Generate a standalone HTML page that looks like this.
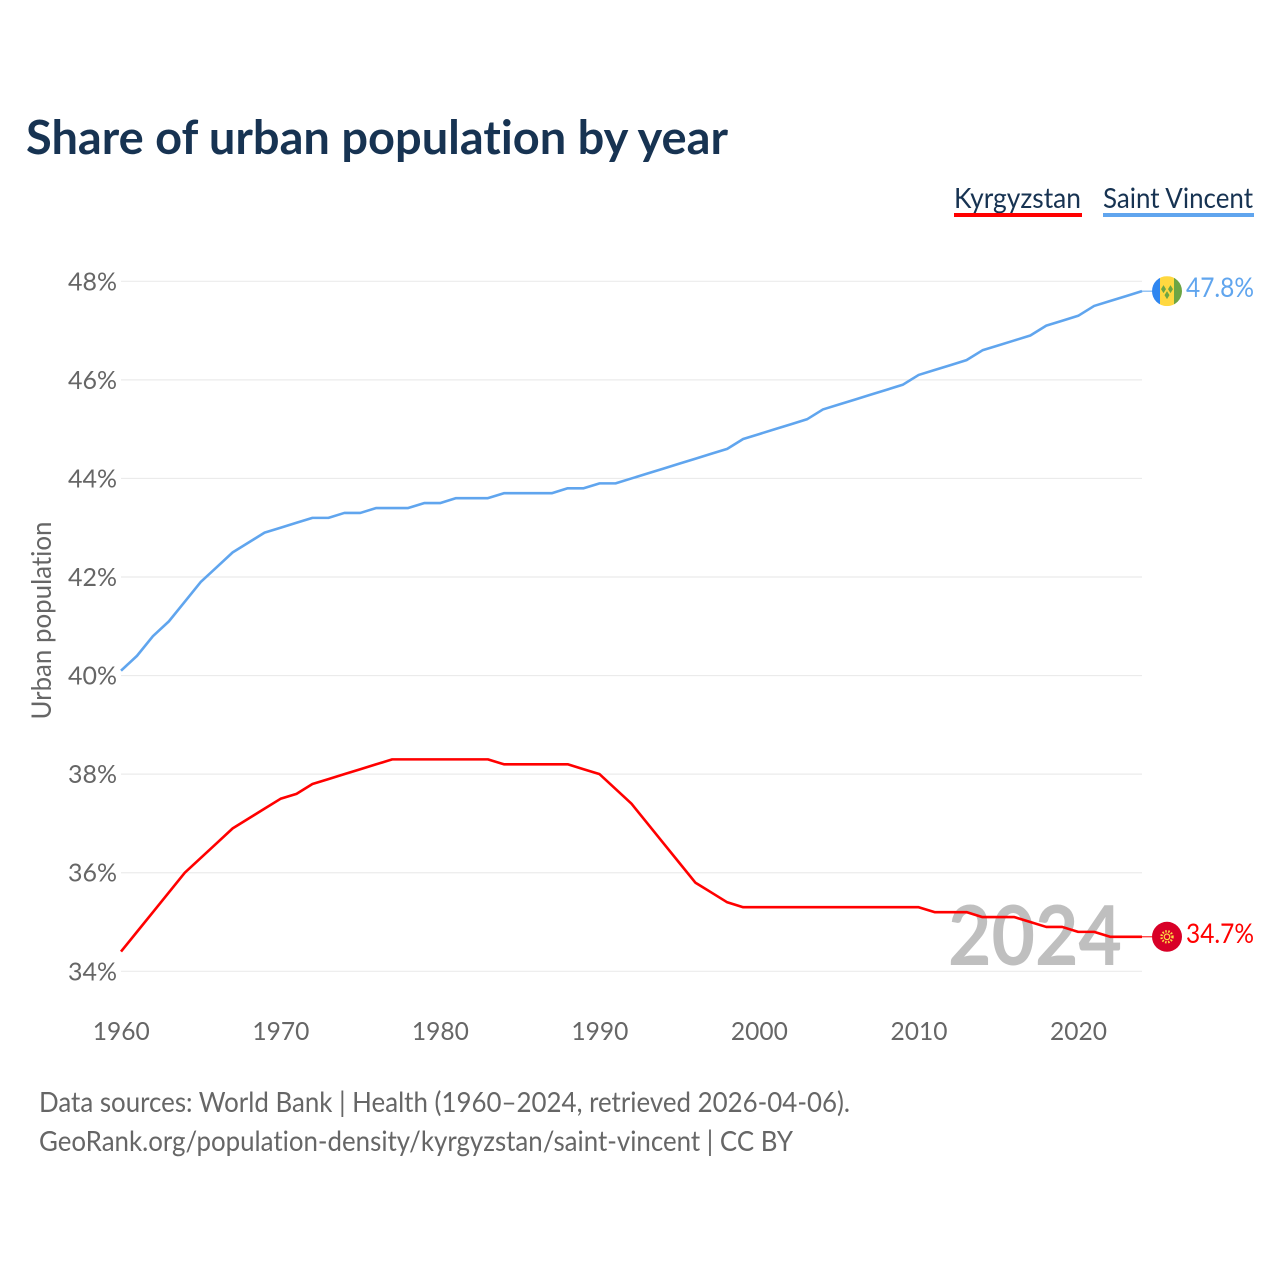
<!DOCTYPE html>
<html lang="en">
<head>
<meta charset="utf-8">
<title>Share of urban population by year</title>
<style>
html,body{margin:0;padding:0;background:#fff;width:1280px;height:1280px;overflow:hidden}
svg{display:block}
text{font-family:"Lato","Carlito","Liberation Sans",sans-serif;font-variant-ligatures:none}
</style>
</head>
<body>
<svg id="chart" width="1280" height="1280" viewBox="0 0 1280 1280" xmlns="http://www.w3.org/2000/svg">
  <rect width="1280" height="1280" fill="#fff"/>
  <text x="26" y="154" font-size="47" font-weight="700" fill="#173352" textLength="702" lengthAdjust="spacingAndGlyphs">Share of urban population by year</text>

  <g>
    <text x="954" y="208" font-size="28" fill="#173352" textLength="127" lengthAdjust="spacingAndGlyphs">Kyrgyzstan</text>
    <rect x="954" y="213" width="128" height="4" fill="#ff0000"/>
  </g>
  <g>
    <text x="1103" y="208" font-size="28" fill="#173352" textLength="150" lengthAdjust="spacingAndGlyphs">Saint Vincent</text>
    <rect x="1103" y="213" width="151" height="4" fill="#60a5ee"/>
  </g>

  <text transform="translate(51 719.500) rotate(-90)" x="0" y="0" font-size="27" fill="#666" textLength="198" lengthAdjust="spacingAndGlyphs">Urban population</text>

  <g id="grid"></g>
  <g id="yticks"></g>
  <g id="xticks"></g>

  <text x="948" y="965" font-size="82" font-weight="700" fill="#bfbfbf" textLength="174" lengthAdjust="spacingAndGlyphs">2024</text>

  <polyline id="line-sv" fill="none" stroke="#60a5ee" stroke-width="2.600" stroke-linejoin="round"/>
  <polyline id="line-kg" fill="none" stroke="#ff0000" stroke-width="2.600" stroke-linejoin="round"/>
  <line id="conn-sv" stroke="#60a5ee" stroke-width="1"/>
  <line id="conn-kg" stroke="#ff0000" stroke-width="1"/>

  <g id="flag-sv">
    <clipPath id="clip-sv"><circle cx="0" cy="0" r="15"/></clipPath>
    <g clip-path="url(#clip-sv)">
      <rect x="-15" y="-15" width="8" height="30" fill="#2f86f0"/>
      <rect x="-7" y="-15" width="15" height="30" fill="#ffd840"/>
      <rect x="7" y="-15" width="8" height="30" fill="#6da544"/>
      <path d="M-6 -2l2.500 -4 2.500 4 -2.500 4z M1 -2l2.500 -4 2.500 4 -2.500 4z M-2.500 4l2.500 -4 2.500 4 -2.500 4z" fill="#6da544"/>
    </g>
  </g>
  <g id="flag-kg">
    <circle r="15" fill="#d80027"/>
    <circle r="2.800" fill="none" stroke="#ffda44" stroke-width="1.200"/>
    <circle r="5.500" fill="none" stroke="#ffda44" stroke-width="2.400" stroke-dasharray="1.500 1.500"/>
  </g>

  <text id="val-sv" x="1186" y="297" font-size="27" fill="#60a5ee" textLength="68" lengthAdjust="spacingAndGlyphs"></text>
  <text id="val-kg" x="1186" y="943" font-size="27" fill="#ff0000" textLength="68" lengthAdjust="spacingAndGlyphs"></text>

  <text x="39" y="1112" font-size="28" fill="#666" textLength="811" lengthAdjust="spacingAndGlyphs">Data sources: World Bank | Health (1960–2024, retrieved 2026-04-06).</text>
  <text x="39" y="1151" font-size="28" fill="#666" textLength="754" lengthAdjust="spacingAndGlyphs">GeoRank.org/population-density/kyrgyzstan/saint-vincent | CC BY</text>
</svg>
<script>
const years = [1960,1961,1962,1963,1964,1965,1966,1967,1968,1969,1970,1971,1972,1973,1974,1975,1976,1977,1978,1979,1980,1981,1982,1983,1984,1985,1986,1987,1988,1989,1990,1991,1992,1993,1994,1995,1996,1997,1998,1999,2000,2001,2002,2003,2004,2005,2006,2007,2008,2009,2010,2011,2012,2013,2014,2015,2016,2017,2018,2019,2020,2021,2022,2023,2024];
const saintVincent = [40.1,40.4,40.8,41.1,41.5,41.9,42.2,42.5,42.7,42.9,43.0,43.1,43.2,43.2,43.3,43.3,43.4,43.4,43.4,43.5,43.5,43.6,43.6,43.6,43.7,43.7,43.7,43.7,43.8,43.8,43.9,43.9,44.0,44.1,44.2,44.3,44.4,44.5,44.6,44.8,44.9,45.0,45.1,45.2,45.4,45.5,45.6,45.7,45.8,45.9,46.1,46.2,46.3,46.4,46.6,46.7,46.8,46.9,47.1,47.2,47.3,47.5,47.6,47.7,47.8];
const kyrgyzstan = [34.4,34.8,35.2,35.6,36.0,36.3,36.6,36.9,37.1,37.3,37.5,37.6,37.8,37.9,38.0,38.1,38.2,38.3,38.3,38.3,38.3,38.3,38.3,38.3,38.2,38.2,38.2,38.2,38.2,38.1,38.0,37.7,37.4,37.0,36.6,36.2,35.8,35.6,35.4,35.3,35.3,35.3,35.3,35.3,35.3,35.3,35.3,35.3,35.3,35.3,35.3,35.2,35.2,35.2,35.1,35.1,35.1,35.0,34.9,34.9,34.8,34.8,34.7,34.7,34.7];
const yTickValues = [34,36,38,40,42,44,46,48];
const xTickValues = [1960,1970,1980,1990,2000,2010,2020];

const NS = 'http://www.w3.org/2000/svg';
const xScale = function (year) { return 121 + (year - 1960) * (1021 / 64); };
const yScale = function (value) { return 971.3 - (value - 34) * (690 / 14); };
const percent = function (value) { return value.toFixed(1) + '%'; };

const grid = document.getElementById('grid');
const yticks = document.getElementById('yticks');
const xticks = document.getElementById('xticks');

yTickValues.forEach(function (v) {
  const y = yScale(v);
  const line = document.createElementNS(NS, 'line');
  
  
  line.setAttribute('x1', xScale(1960));
  line.setAttribute('x2', xScale(2024));
  line.setAttribute('y1', y);
  line.setAttribute('y2', y);
  line.setAttribute('stroke', '#ebebeb');
  line.setAttribute('stroke-width', '1.200');
  grid.appendChild(line);

  const label = document.createElementNS(NS, 'text');
  
  
  label.setAttribute('x', 117);
  label.setAttribute('y', y + 9);
  label.setAttribute('text-anchor', 'end');
  label.setAttribute('font-size', '25');
  label.setAttribute('fill', '#666');
  label.setAttribute('textLength', '49');
  label.setAttribute('lengthAdjust', 'spacingAndGlyphs');
  label.textContent = v + '%';
  yticks.appendChild(label);
});

xTickValues.forEach(function (year) {
  const label = document.createElementNS(NS, 'text');
  
  
  label.setAttribute('x', xScale(year) + 0.300);
  label.setAttribute('y', 1040);
  label.setAttribute('text-anchor', 'middle');
  label.setAttribute('font-size', '25');
  label.setAttribute('fill', '#666');
  label.setAttribute('textLength', '57');
  label.setAttribute('lengthAdjust', 'spacingAndGlyphs');
  label.textContent = String(year);
  xticks.appendChild(label);
});

const toPoints = function (series) {
  return series.map(function (v, i) { return xScale(years[i]) + ',' + yScale(v); }).join(' ');
};
document.getElementById('line-sv').setAttribute('points', toPoints(saintVincent));
document.getElementById('line-kg').setAttribute('points', toPoints(kyrgyzstan));

const placeEnd = function (key, series) {
  const last = series[series.length - 1];
  const y = yScale(last);
  const conn = document.getElementById('conn-' + key);
  conn.setAttribute('x1', xScale(years[years.length - 1]));
  conn.setAttribute('x2', 1152);
  conn.setAttribute('y1', y);
  conn.setAttribute('y2', y);
  document.getElementById('flag-' + key).setAttribute('transform', 'translate(1167 ' + y + ')');
  document.getElementById('val-' + key).textContent = percent(last);
};
placeEnd('sv', saintVincent);
placeEnd('kg', kyrgyzstan);
</script>
</body>
</html>
